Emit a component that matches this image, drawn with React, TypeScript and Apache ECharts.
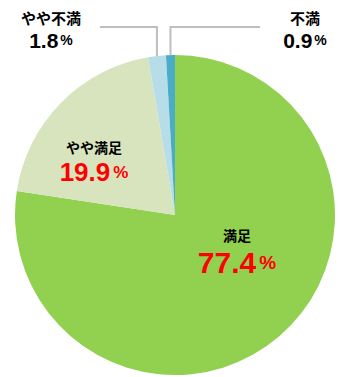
import React, { useEffect, useRef } from "react";
import * as echarts from "echarts";

const categories = ["満足", "やや満足", "やや不満", "不満"];
const values = [77.4, 19.9, 1.8, 0.9];
const colors = ["#92D050", "#D7E4BD", "#B7DEE8", "#4BACC6"];

const JP = '"Noto Sans CJK JP", "Noto Sans", sans-serif';
const NUM = '"Liberation Sans", Arial, sans-serif';

export default function App() {
  const ref = useRef<HTMLDivElement>(null);
  useEffect(() => {
    document.body.style.margin = "0";
    const chart = echarts.init(ref.current!, null, { renderer: "svg" });
    const inside = (i: number) => i < 2;
    const labelPos: Record<number, [number, number]> = {
      0: [237, 252],
      1: [94, 162],
      2: [51, 29],
      3: [305, 29],
    };
    const lineEnd: Record<number, number> = { 2: 100, 3: 260 };
    chart.setOption({
      animation: false,
      series: [
        {
          type: "pie",
          center: [175, 215],
          radius: [0, 160],
          startAngle: 90,
          clockwise: true,
          avoidLabelOverlap: false,
          itemStyle: { borderWidth: 0 },
          data: categories.map((name, i) => ({
            name,
            value: values[i],
            itemStyle: { color: colors[i] },
            label: inside(i)
              ? {
                  formatter: (p: any) =>
                    `{n|${p.name}}\n{${i === 0 ? "v0" : "v1"}|${p.value.toFixed(1)}}{${i === 0 ? "p0" : "p1"}|%}`,
                }
              : {
                  formatter: (p: any) => `{o|${p.name}}\n{ov|${p.value.toFixed(1)}}{op|%}`,
                },
            labelLine: {
              show: !inside(i),
              lineStyle: { color: "#BFBFBF", width: 2 },
            },
          })),
          label: {
            show: true,
            position: "outside",
            align: "center",
            rich: {
              n: { fontFamily: JP, fontSize: 14, fontWeight: "bold", color: "#000", lineHeight: 20, align: "center" },
              v0: { fontFamily: NUM, fontSize: 30, fontWeight: "bold", color: "#FF0000", lineHeight: 34 },
              p0: { fontFamily: NUM, fontSize: 19, fontWeight: "bold", color: "#FF0000", lineHeight: 34, padding: [0, 0, 0, 3] },
              v1: { fontFamily: NUM, fontSize: 26, fontWeight: "bold", color: "#FF0000", lineHeight: 30 },
              p1: { fontFamily: NUM, fontSize: 17, fontWeight: "bold", color: "#FF0000", lineHeight: 30, padding: [0, 0, 0, 3] },
              o: { fontFamily: JP, fontSize: 15, fontWeight: "bold", color: "#000", lineHeight: 22, align: "center" },
              ov: { fontFamily: NUM, fontSize: 21, fontWeight: "bold", color: "#000", lineHeight: 24 },
              op: { fontFamily: NUM, fontSize: 14, fontWeight: "bold", color: "#000", lineHeight: 24, padding: [0, 0, 0, 2] },
            },
          },
          labelLine: { show: true, length: 20, length2: 40 },
          labelLayout: (params: any) => {
            const i = params.dataIndex;
            const [x, y] = labelPos[i];
            const res: any = { x, y, align: "center", verticalAlign: "middle" };
            if (!inside(i) && params.labelLinePoints) {
              const p0 = params.labelLinePoints[0];
              res.labelLinePoints = [
                [p0[0], p0[1]],
                [p0[0], 27],
                [lineEnd[i], 27],
              ];
            }
            return res;
          },
        },
      ],
    });
    return () => chart.dispose();
  }, []);
  return <div ref={ref} style={{ width: 350, height: 377 }} />;
}
